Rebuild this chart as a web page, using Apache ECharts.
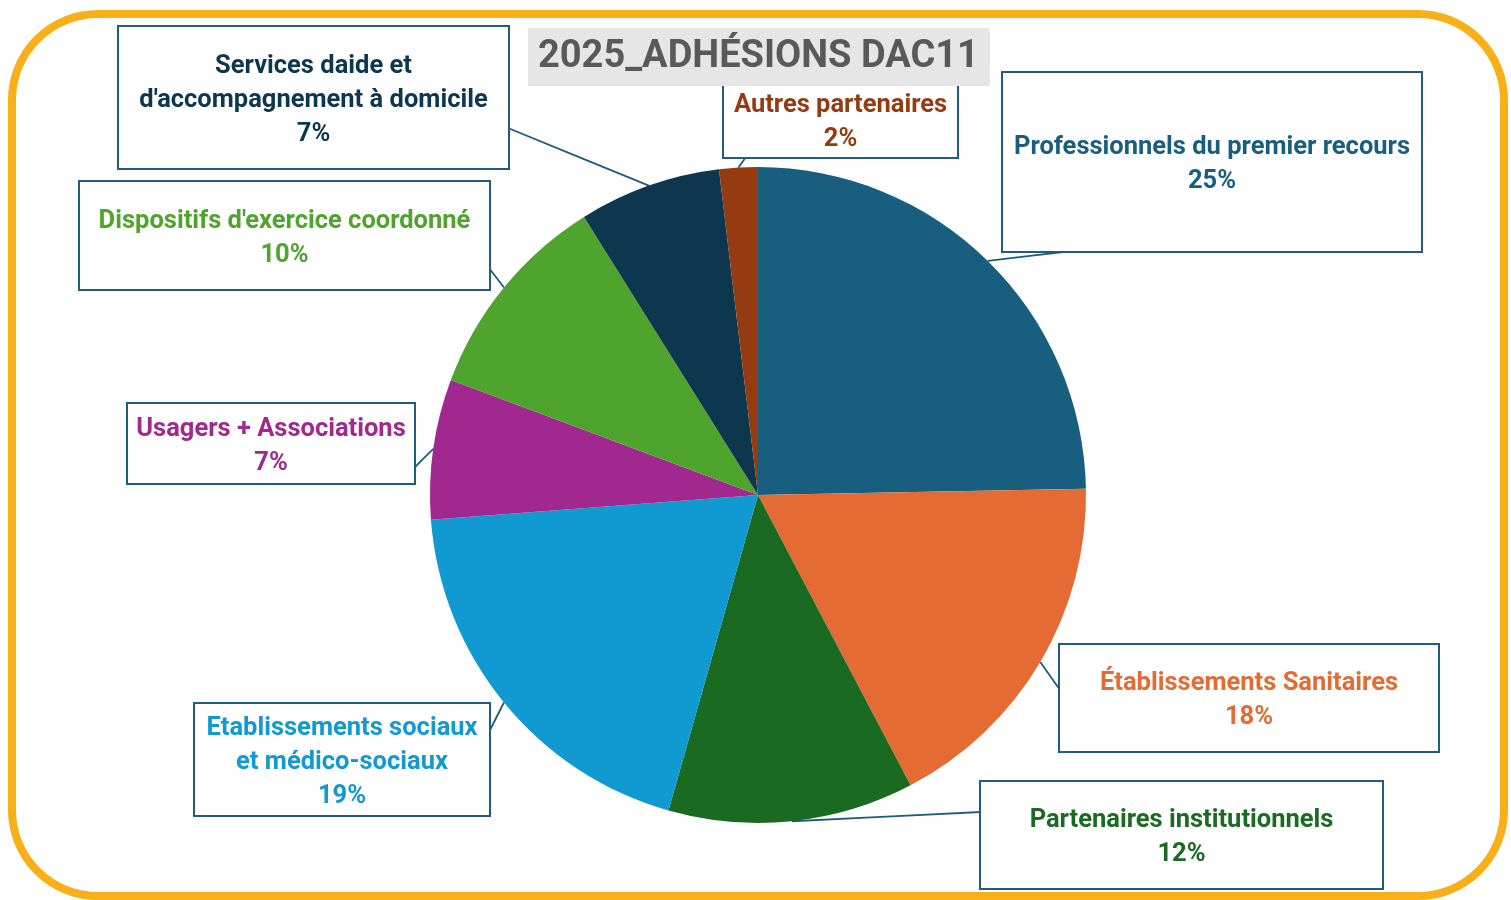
<!DOCTYPE html>
<html>
<head>
<meta charset="utf-8">
<script src="https://cdn.jsdelivr.net/npm/echarts@6/dist/echarts.min.js"></script>
<style>
  html, body { margin: 0; padding: 0; background: #fff; overflow: hidden; }
  #frame {
    position: absolute; left: 8px; top: 10px; width: 1500px; height: 890px;
    box-sizing: border-box; border: 8px solid #F8AF18; border-radius: 90px;
    pointer-events: none;
  }
  #chart { position: absolute; left: 0; top: 0; width: 1511px; height: 900px; }
</style>
</head>
<body>
<div id="chart"></div>
<div id="frame"></div>
<script>
// categories, clockwise from 12 o'clock
const categories = [
  'Professionnels du premier recours',
  'Établissements Sanitaires',
  'Partenaires institutionnels',
  'Etablissements sociaux\net médico-sociaux',
  'Usagers + Associations',
  "Dispositifs d'exercice coordonné",
  "Services daide et\nd'accompagnement à domicile",
  'Autres partenaires'
]
const values = [24.7, 17.6, 12.1, 19.4, 6.9, 10.4, 7.0, 1.9]
const colors = ['#175E7F', '#E46C34', '#1B6A22', '#1199D1', '#A0288E', '#4EA42D', '#0D374F', '#943B12']

// callout boxes [left, top, width, height]
const boxes = [
  [1003, 73, 418, 178],
  [1060, 645, 378, 106],
  [981, 782, 401, 106],
  [195, 704, 294, 111],
  [128, 404, 286, 79],
  [80, 182, 409, 107],
  [119, 27, 389, 141],
  [724, 82, 233, 75]
]
// where each leader line meets its box
const tips = [
  [1072, 251],
  [1060, 690],
  [981, 812],
  [489, 732],
  [414, 468],
  [489, 268],
  [508, 128],
  [746, 157]
]

const LINE_H = 34
const chart = echarts.init(document.getElementById('chart'))

const data = categories.map((name, i) => {
  const b = boxes[i]
  const lines = name.split('\n').length + 1
  const pad = (b[3] - lines * LINE_H) / 2
  return {
    name,
    value: values[i],
    itemStyle: { color: colors[i] },
    label: {
      color: colors[i],
      width: b[2],
      padding: [pad + 3, 0, pad - 3, 0]
    }
  }
})

const option = {
  title: {
    text: '2025_ADHÉSIONS DAC11',
    left: 528,
    top: 28,
    backgroundColor: '#E6E6E6',
    padding: [10, 11, 10, 10],
    textStyle: {
      fontFamily: 'Roboto',
      fontSize: 38,
      fontWeight: 'bold',
      color: '#595959'
    }
  },
  series: [{
    type: 'pie',
    center: [758, 495],
    radius: 328,
    startAngle: 90,
    avoidLabelOverlap: false,
    percentPrecision: 0,
    label: {
      show: true,
      position: 'outside',
      formatter: '{b}\n{d}%',
      fontFamily: 'Roboto',
      fontSize: 25.5,
      fontWeight: 'bold',
      lineHeight: LINE_H,
      align: 'center',
      backgroundColor: '#fff',
      borderColor: '#215C7A',
      borderWidth: 2
    },
    labelLine: {
      show: true,
      length: 10,
      length2: 10,
      lineStyle: { color: '#215C7A', width: 1.8 }
    },
    labelLayout: function (params) {
      const i = params.dataIndex
      const b = boxes[i]
      const p0 = params.labelLinePoints[0]
      const t = tips[i]
      return {
        x: b[0] + b[2] / 2,
        y: b[1],
        align: 'center',
        verticalAlign: 'top',
        labelLinePoints: [p0, [(p0[0] + t[0]) / 2, (p0[1] + t[1]) / 2], t]
      }
    },
    emphasis: { disabled: true },
    data
  }]
}

chart.setOption(option)
</script>
</body>
</html>
